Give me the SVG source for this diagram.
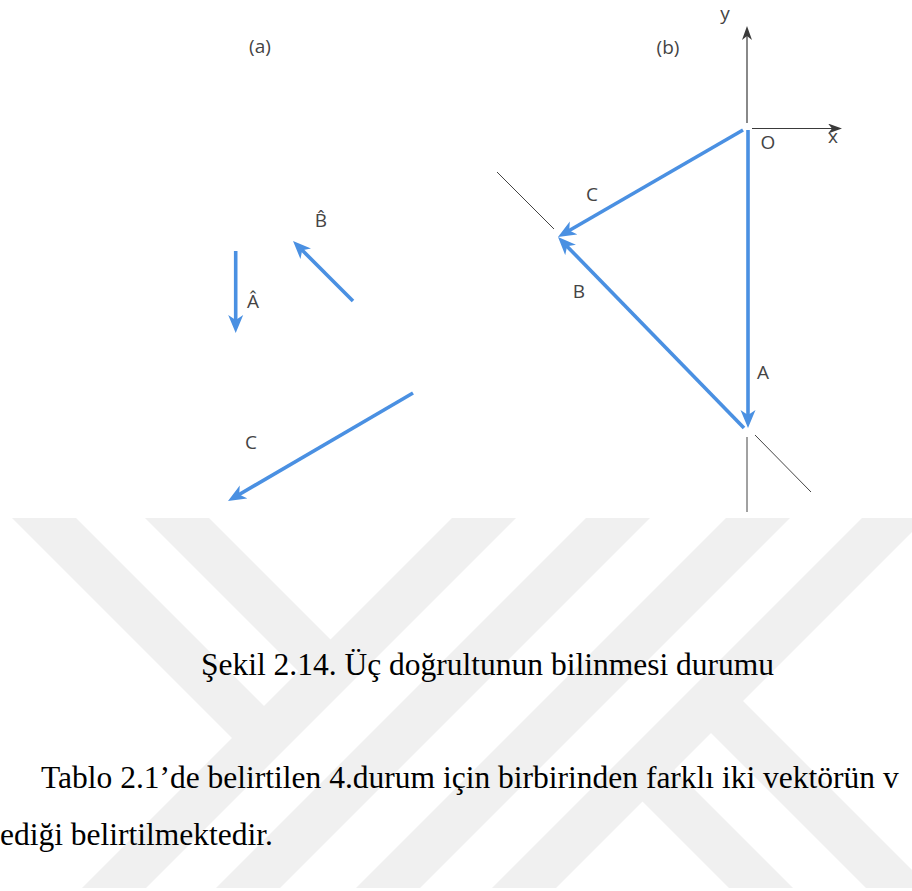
<svg xmlns="http://www.w3.org/2000/svg" width="912" height="891" viewBox="0 0 912 891">
<style>
.wm{fill:#f0f0f0}
.vec{stroke:#4a90e2;stroke-width:3.6;fill:none;stroke-linecap:butt}
.axis{stroke:#3a3a3a;stroke-width:1.2;fill:none}
.thin{stroke:#444;stroke-width:1;fill:none}
.lbl{font-family:"Open Sans","DejaVu Sans",sans-serif;font-size:19px;fill:#444;text-anchor:middle}
.cap{font-family:"Liberation Serif","Times New Roman",serif;font-size:31.5px;fill:#000}
</style>
<defs>
<marker id="bh" viewBox="0 0 18 16" refX="7" refY="8" markerWidth="18" markerHeight="16" markerUnits="userSpaceOnUse" orient="auto">
<path d="M18,8 L0,0.5 L5,8 L0,15.5 Z" fill="#4a90e2"/>
</marker>
<marker id="ah" viewBox="0 0 14 10" refX="6" refY="5" markerWidth="14" markerHeight="10" markerUnits="userSpaceOnUse" orient="auto">
<path d="M14,5 L0,0 L4,5 L0,10 Z" fill="#3a3a3a"/>
</marker>
</defs>
<rect width="912" height="891" fill="#ffffff"/>
<g id="watermark">
<polygon class="wm" points="12,518 76,518 281,723 249,755"/>
<polygon class="wm" points="145,518 209,518 347,656 315,688"/>
<polygon class="wm" points="452,518 516,518 146,888 82,888"/>
<polygon class="wm" points="586,518 650,518 280,888 216,888"/>
<polygon class="wm" points="726,518 790,518 420,888 356,888"/>
<polygon class="wm" points="862,518 926,518 556,888 492,888"/>
<polygon class="wm" points="729,687 930,888 866,888 697,719"/>
<polygon class="wm" points="663,758 793,888 729,888 631,790"/>
</g>
<g id="connectors">
<line class="vec" x1="235.7" y1="251" x2="235.7" y2="322" marker-end="url(#bh)"/>
<line class="vec" x1="353" y1="301" x2="300.8" y2="248.8" marker-end="url(#bh)"/>
<line class="vec" x1="413" y1="393" x2="237.5" y2="495.5" marker-end="url(#bh)"/>
<line class="vec" x1="743" y1="130" x2="567.5" y2="231.5" marker-end="url(#bh)"/>
<line class="vec" x1="748" y1="130" x2="748" y2="417" marker-end="url(#bh)"/>
<line class="vec" x1="744" y1="428" x2="565.7" y2="244.9" marker-end="url(#bh)"/>
<line class="axis" x1="747" y1="123" x2="747" y2="34" marker-end="url(#ah)"/>
<line class="axis" x1="752" y1="128.5" x2="834" y2="128.5" marker-end="url(#ah)"/>
<line class="thin" x1="497" y1="172" x2="554" y2="229"/>
<line class="thin" x1="747" y1="437" x2="747" y2="512"/>
<line class="thin" x1="755" y1="435" x2="811" y2="492"/>
</g>
<g id="panel-a">
<text class="lbl" x="260" y="53">(a)</text>
<text class="lbl" x="253" y="308">Â</text>
<text class="lbl" x="321" y="227">B̂</text>
<text class="lbl" x="251" y="449">C</text>
</g>
<g id="panel-b">
<text class="lbl" x="668" y="54">(b)</text>
<text class="lbl" x="725" y="20">y</text>
<text class="lbl" x="833" y="143">x</text>
<text class="lbl" x="768" y="149">O</text>
<text class="lbl" x="592" y="201">C</text>
<text class="lbl" x="579" y="298">B</text>
<text class="lbl" x="763" y="379">A</text>
</g>
<g id="caption">
<text class="cap" x="487.5" y="675" text-anchor="middle">Şekil 2.14. Üç doğrultunun bilinmesi durumu</text>
<text class="cap" x="41" y="788">Tablo 2.1’de belirtilen 4.durum için birbirinden farklı iki vektörün v</text>
<text class="cap" x="0" y="845">ediği belirtilmektedir.</text>
</g>
</svg>
